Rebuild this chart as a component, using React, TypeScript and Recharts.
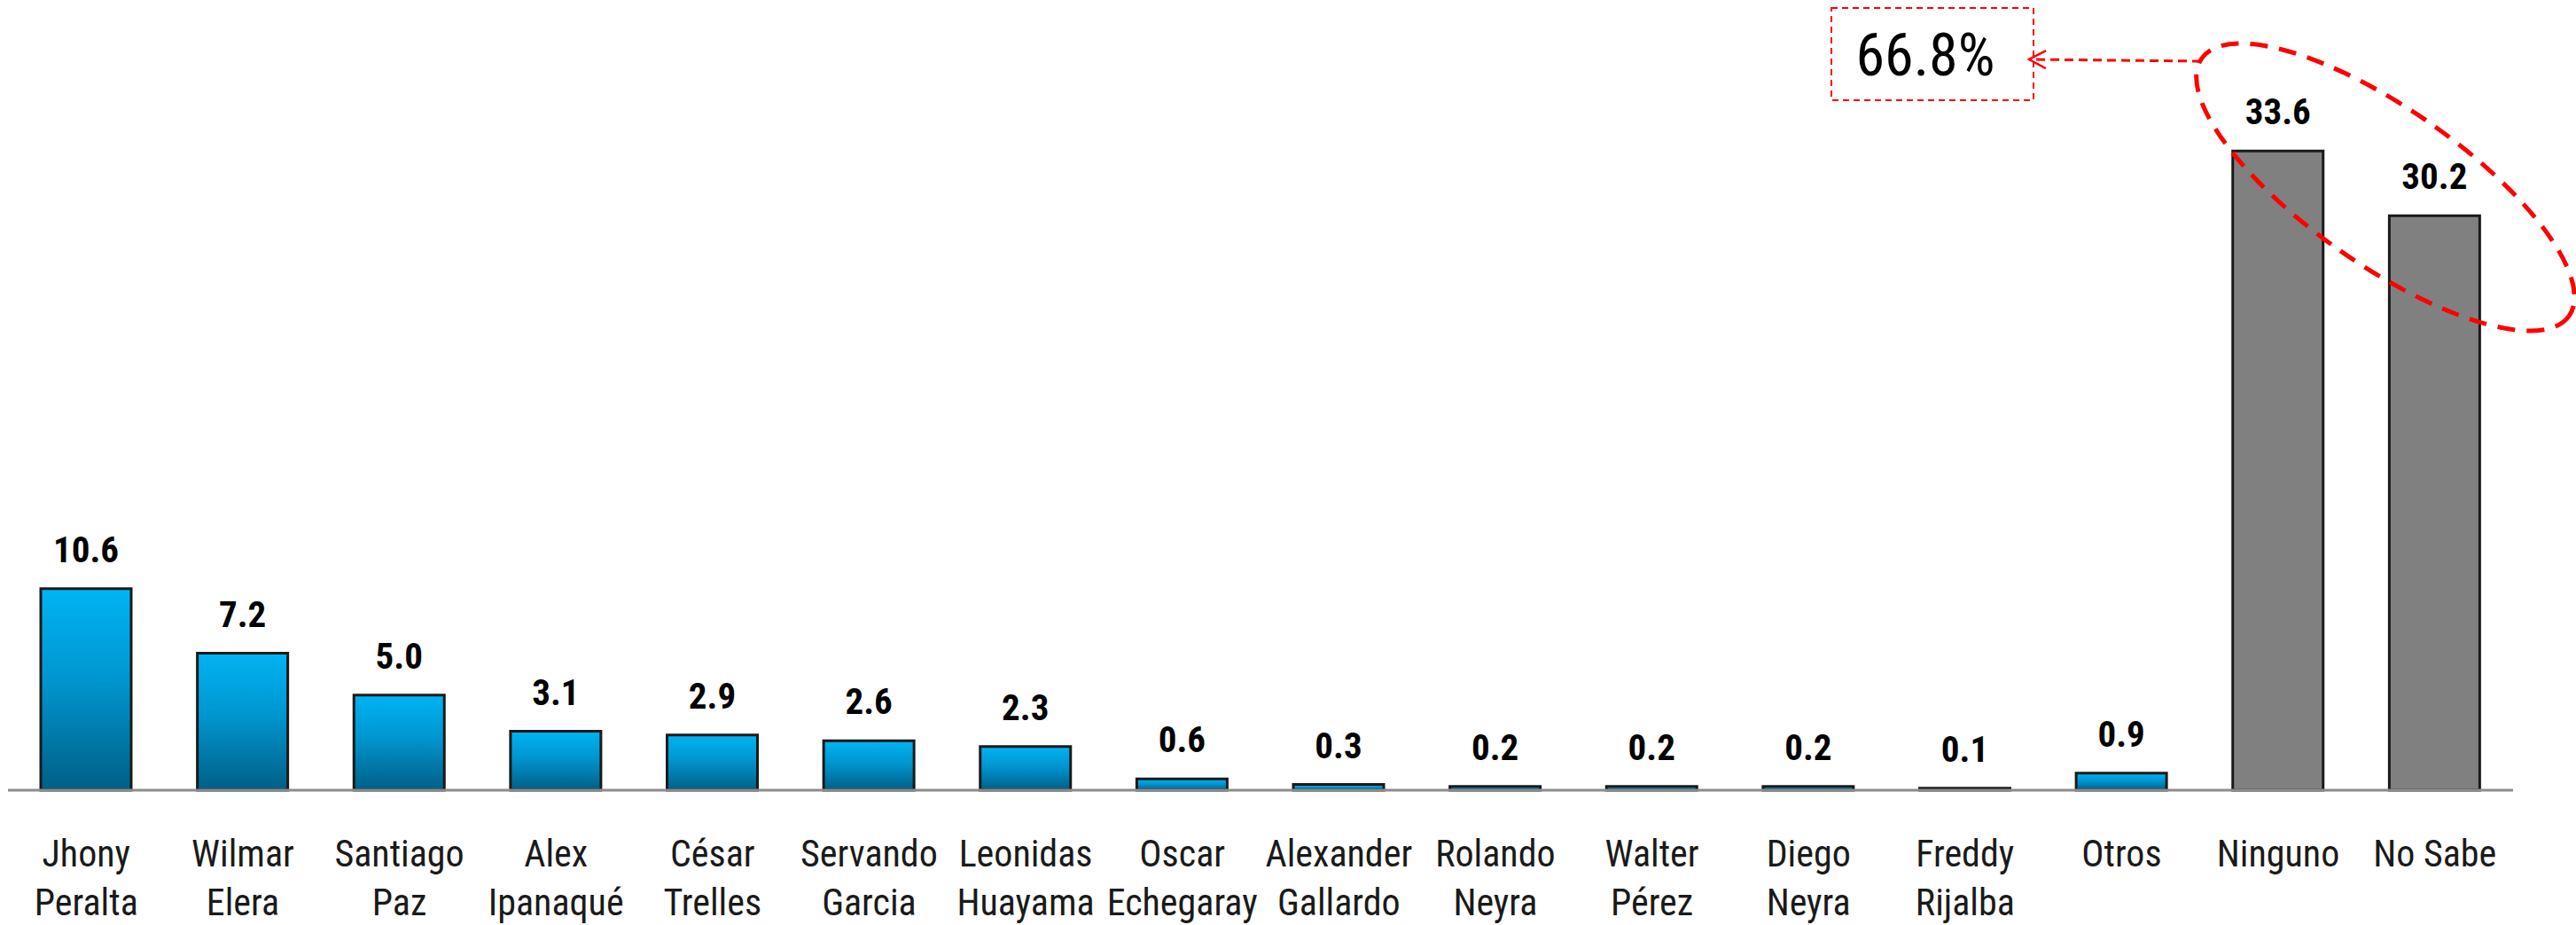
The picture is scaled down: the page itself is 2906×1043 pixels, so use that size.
import { Bar, BarChart, Cell, LabelList, XAxis, YAxis } from "recharts";

const candidates = [
  "Jhony\nPeralta",
  "Wilmar\nElera",
  "Santiago\nPaz",
  "Alex\nIpanaqué",
  "César\nTrelles",
  "Servando\nGarcia",
  "Leonidas\nHuayama",
  "Oscar\nEchegaray",
  "Alexander\nGallardo",
  "Rolando\nNeyra",
  "Walter\nPérez",
  "Diego\nNeyra",
  "Freddy\nRijalba",
  "Otros",
  "Ninguno",
  "No Sabe",
];

const percents = [10.6, 7.2, 5.0, 3.1, 2.9, 2.6, 2.3, 0.6, 0.3, 0.2, 0.2, 0.2, 0.1, 0.9, 33.6, 30.2];

// the two non-candidate answers drawn in grey
const undecided = ["Ninguno", "No Sabe"];

const highlightLabel = "66.8%";

const data = candidates.map((name, i) => ({ name, value: percents[i] }));

const FONT = '"Liberation Sans Narrow", "Roboto Condensed", "Open Sans", sans-serif';
const W = 2906;
const H = 1043;

function NameTick(props: any) {
  const { x, y, payload } = props;
  const lines = String(payload.value).split("\n");
  return (
    <g>
      {lines.map((line, i) => (
        <text
          key={i}
          x={x}
          y={y + 71 + i * 55}
          textAnchor="middle"
          dominantBaseline="central"
          fontFamily={FONT}
          fontSize={42}
          fill="#1a1a1a"
        >
          {line}
        </text>
      ))}
    </g>
  );
}

function ValueLabel(props: any) {
  const { x, y, width, value } = props;
  return (
    <text
      x={x + width / 2}
      y={y - 44}
      textAnchor="middle"
      dominantBaseline="central"
      fontFamily={FONT}
      fontWeight="bold"
      fontSize={41}
      fill="#000"
    >
      {Number(value).toFixed(1)}
    </text>
  );
}

// dashed box, arrow and ellipse drawn over the chart
function Callout() {
  return (
    <svg width={W} height={H} style={{ position: "absolute", left: 0, top: 0, pointerEvents: "none" }}>
      <defs>
        <marker id="openArrow" markerWidth="22" markerHeight="24" refX="20" refY="12" orient="auto" markerUnits="userSpaceOnUse">
          <path d="M1,2 L20,12 L1,22" fill="none" stroke="#ff0000" strokeWidth="2.5" />
        </marker>
      </defs>
      <rect x={2066} y={9} width={228} height={104} fill="none" stroke="#ff0000" strokeWidth={2} strokeDasharray="7 5" />
      <text x={2172} y={62} textAnchor="middle" dominantBaseline="central" fontFamily={FONT} fontSize={66} fill="#000">
        {highlightLabel}
      </text>
      <line x1={2483} y1={69} x2={2289} y2={67} stroke="#ff0000" strokeWidth={3} strokeDasharray="10 6" markerEnd="url(#openArrow)" />
      <ellipse
        cx={2691}
        cy={211}
        rx={253}
        ry={88}
        transform="rotate(35 2691 211)"
        fill="none"
        stroke="#ff0000"
        strokeWidth={5}
        strokeDasharray="20 13"
      />
    </svg>
  );
}

export default function App() {
  return (
    <div style={{ position: "relative", width: W, height: H, background: "#fff" }}>
      <style>{"body{margin:0;overflow:hidden}"}</style>
      <BarChart
        width={W}
        height={H}
        data={data}
        margin={{ top: 33, right: 71, bottom: 0, left: 9 }}
        barSize={102}
      >
        <defs>
          <linearGradient id="blueBar" x1="0" y1="0" x2="0" y2="1">
            <stop offset="0%" stopColor="#00b4f2" />
            <stop offset="45%" stopColor="#0096d0" />
            <stop offset="100%" stopColor="#005f86" />
          </linearGradient>
        </defs>
        <XAxis
          dataKey="name"
          interval={0}
          tickLine={false}
          tickSize={0}
          tickMargin={0}
          height={152}
          axisLine={{ stroke: "#8c8c8c", strokeWidth: 3 }}
          tick={<NameTick />}
        />
        <YAxis hide domain={[0, 40]} />
        <Bar dataKey="value" stroke="#1a1a1a" strokeWidth={3} isAnimationActive={false}>
          {data.map((d) => (
            <Cell key={d.name} fill={undecided.includes(d.name) ? "#808080" : "url(#blueBar)"} />
          ))}
          <LabelList dataKey="value" content={<ValueLabel />} />
        </Bar>
      </BarChart>
      <Callout />
    </div>
  );
}
